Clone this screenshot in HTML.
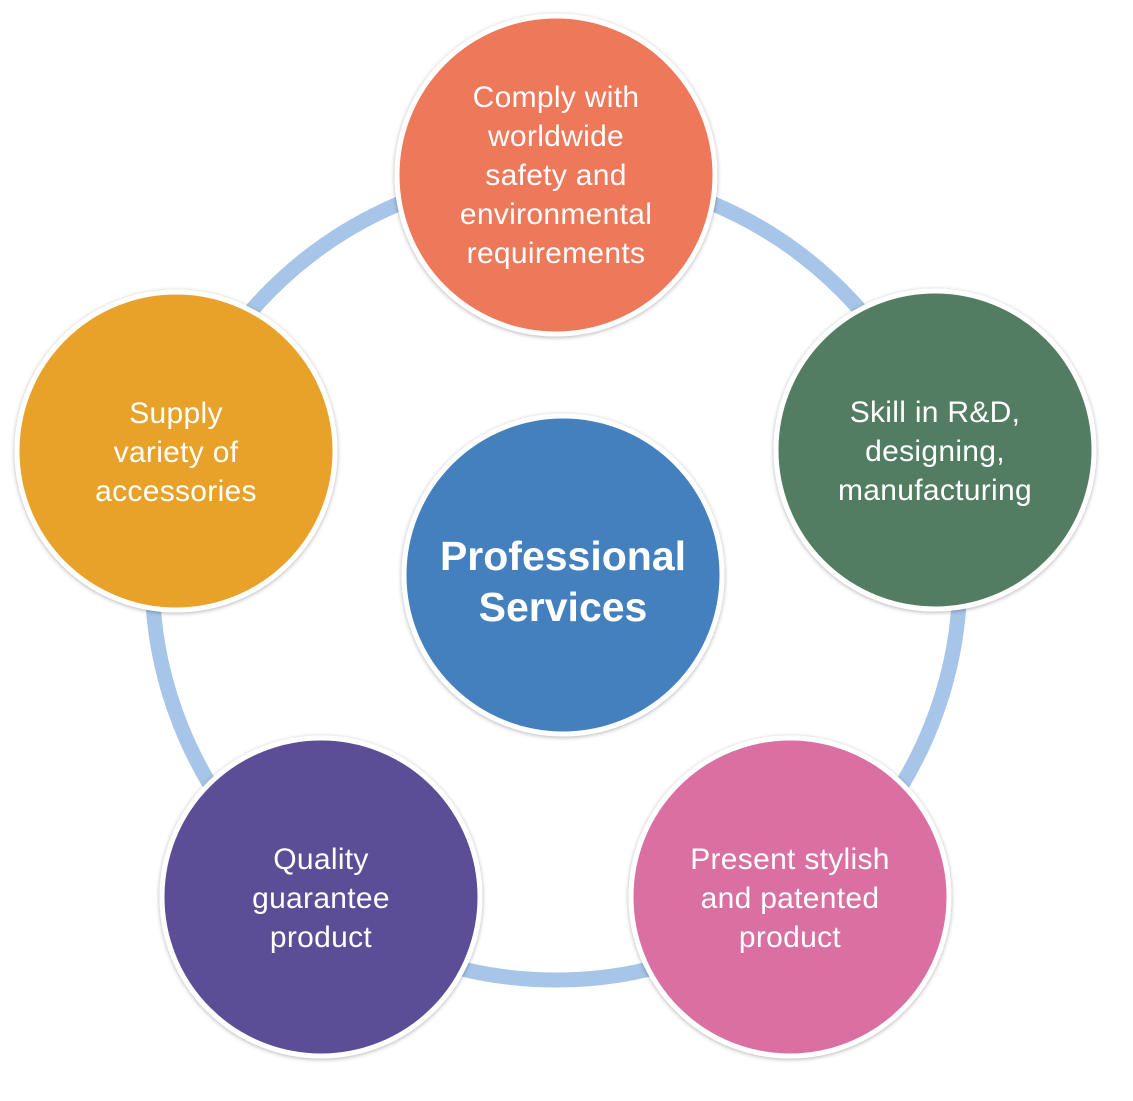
<!DOCTYPE html>
<html><head><meta charset="utf-8"><style>
html,body{margin:0;padding:0;background:#fff;}
svg text{font-family:"Liberation Sans",Arial,sans-serif;fill:#fff;}
</style></head><body>
<svg width="1133" height="1096" viewBox="0 0 1133 1096" xmlns="http://www.w3.org/2000/svg">
<defs>
<filter id="s" x="-20%" y="-20%" width="140%" height="140%"><feDropShadow dx="0" dy="1" stdDeviation="2" flood-color="#000" flood-opacity="0.3"/></filter>
</defs>
<circle cx="556" cy="576" r="404" fill="none" stroke="#A6C5E8" stroke-width="15"/>
<g filter="url(#s)" stroke="#fff" stroke-width="5">
<circle cx="556" cy="175" r="159" fill="#EE785A"/>
<circle cx="935" cy="450" r="159" fill="#527D62"/>
<circle cx="790" cy="897" r="159" fill="#D96FA1"/>
<circle cx="321" cy="897" r="159" fill="#5B4D97"/>
<circle cx="176" cy="451" r="159" fill="#E8A22B"/>
<circle cx="563" cy="575" r="159" fill="#4580BE"/>
</g>
<g font-size="30" text-anchor="middle" letter-spacing="0.3">
<text x="556" y="107">Comply with</text>
<text x="556" y="146">worldwide</text>
<text x="556" y="185">safety and</text>
<text x="556" y="224">environmental</text>
<text x="556" y="263">requirements</text>
<text x="935" y="422">Skill in R&amp;D,</text>
<text x="935" y="461">designing,</text>
<text x="935" y="500">manufacturing</text>
<text x="790" y="869">Present stylish</text>
<text x="790" y="908">and patented</text>
<text x="790" y="947">product</text>
<text x="321" y="869">Quality</text>
<text x="321" y="908">guarantee</text>
<text x="321" y="947">product</text>
<text x="176" y="423">Supply</text>
<text x="176" y="462">variety of</text>
<text x="176" y="501">accessories</text>
</g>
<g font-size="41" font-weight="bold" text-anchor="middle">
<text x="563" y="570">Professional</text>
<text x="563" y="621">Services</text>
</g>
</svg>
</body></html>
